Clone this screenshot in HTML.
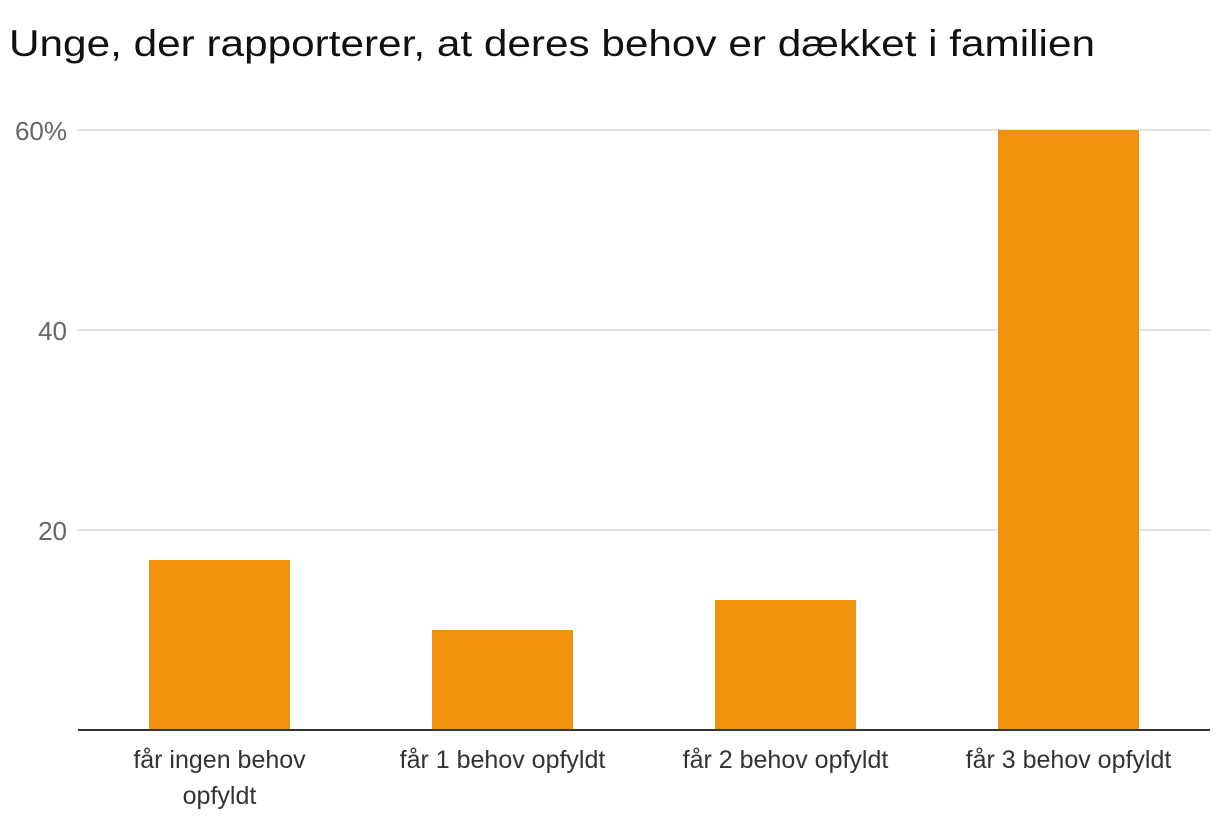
<!DOCTYPE html>
<html><head><meta charset="utf-8"><style>
body{margin:0;background:#fff;width:1220px;height:824px;overflow:hidden;font-family:"Liberation Sans",sans-serif}
</style></head><body>
<svg width="1220" height="824">
<text x="9" y="56" font-size="37" fill="#111" textLength="1086" lengthAdjust="spacingAndGlyphs">Unge, der rapporterer, at deres behov er dækket i familien</text>
<g id="grid"></g><g id="bars"></g><g id="xl"></g>
</svg>
<script>
const categories=[["får ingen behov","opfyldt"],["får 1 behov opfyldt"],["får 2 behov opfyldt"],["får 3 behov opfyldt"]];
const values=[17,10,13,60];
const yTicks=[20,40,60];
const yTickLabels=["20","40","60%"];
const L=78,R=1210,T=130,B=730,yMax=60;
const ns="http://www.w3.org/2000/svg";
const y=v=>B-(v/yMax)*(B-T);
const band=(R-L)/categories.length;
const x=i=>L+band*i+band/2;
function mk(tag,attrs,parent){const e=document.createElementNS(ns,tag);for(const k in attrs)e.setAttribute(k,attrs[k]);parent.appendChild(e);return e;}
const g=document.getElementById('grid');
yTicks.forEach((t,i)=>{
 const l=mk('line',{x1:L,x2:R,y1:y(t),y2:y(t),stroke:'#e3e3e3','stroke-width':2},g);
 
 
 const tx=mk('text',{x:67,y:y(t)+10,'text-anchor':'end','font-size':26,fill:'#666'},g);
 tx.textContent=yTickLabels[i];
 
 
});
const bg=document.getElementById('bars');
values.forEach((v,i)=>{
 const w=141;
 const r=mk('rect',{x:x(i)-w/2,y:y(v),width:w,height:B-y(v),fill:'#f2920c'},bg);
 
 
});
const base=mk('line',{x1:L,x2:R,y1:B,y2:B,stroke:'#333','stroke-width':2},bg);


const xl=document.getElementById('xl');
categories.forEach((c,i)=>{
 c.forEach((line,j)=>{
  const t=mk('text',{x:x(i),y:768+j*36,'text-anchor':'middle','font-size':25,fill:'#333'},xl);
  t.textContent=line;
  
  
 });
});
</script>
</body></html>
